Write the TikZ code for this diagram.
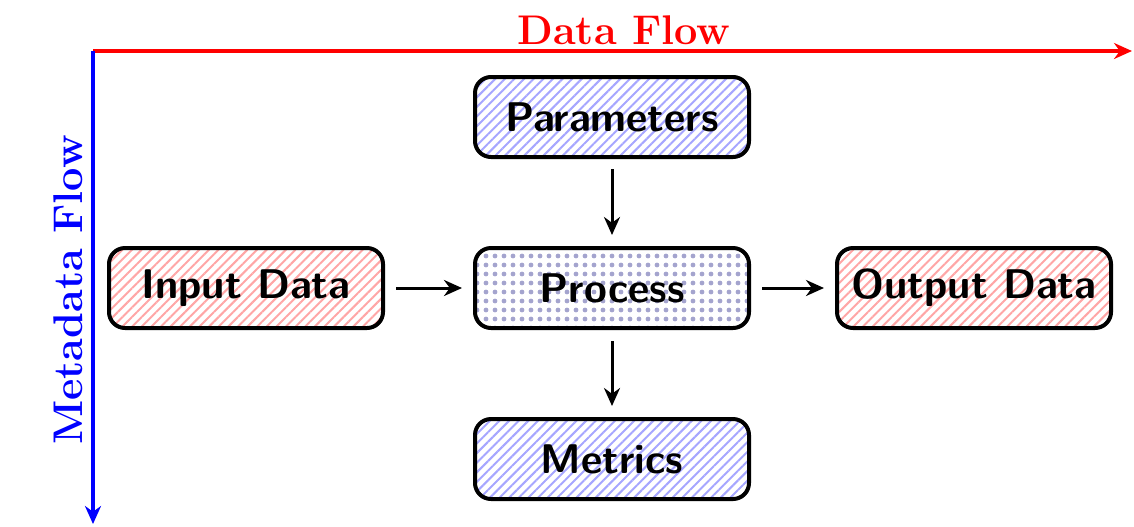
\documentclass[tikz,border=0pt]{standalone}
\usetikzlibrary{arrows.meta,patterns,patterns.meta}
\begin{document}
\begin{tikzpicture}[x=0.5pt,y=-0.5pt,
  box/.style={draw=black,line width=2pt,rounded corners=8pt,
    minimum width=137pt,minimum height=40pt,inner sep=0pt,
    font=\huge\sffamily\bfseries},
  redbox/.style={box,pattern={Lines[angle=45,distance=3.4pt,line width=1pt]},pattern color=red!35},
  bluebox/.style={box,pattern={Lines[angle=45,distance=3.4pt,line width=1pt]},pattern color=blue!35},
  dotbox/.style={box,pattern={Dots[distance=4.5pt,radius=1.2pt]},pattern color=blue!30!gray!55},
  conn/.style={-{Stealth[length=9pt,width=8pt]},line width=1.5pt,shorten >=5.5pt,shorten <=5.5pt},
  axis/.style={-{Stealth[length=9pt,width=8pt]},line width=2pt}
]
\useasboundingbox (0,0) rectangle (1134,526);
\coordinate (o) at (93,51);
\coordinate (xe) at (1132,51);
\coordinate (ye) at (93,524);
\draw[axis,red] (o) -- (xe);
\draw[axis,blue] (o) -- (ye);
\node[red,font=\huge\bfseries] (dl) at (624,30) {Data Flow};
\node[blue,font=\huge\bfseries,rotate=90] (ml) at (68,290) {Metadata Flow};

\node[bluebox] (par) at (612,117) {Parameters};
\node[redbox] (in) at (246,288) {Input Data};
\node[dotbox] (pro) at (612,288) {Process};
\node[redbox] (out) at (974,288) {Output Data};
\node[bluebox] (met) at (612,459) {Metrics};

\draw[conn] (in) -- (pro);
\draw[conn] (pro) -- (out);
\draw[conn] (par) -- (pro);
\draw[conn] (pro) -- (met);
\end{tikzpicture}
\end{document}
